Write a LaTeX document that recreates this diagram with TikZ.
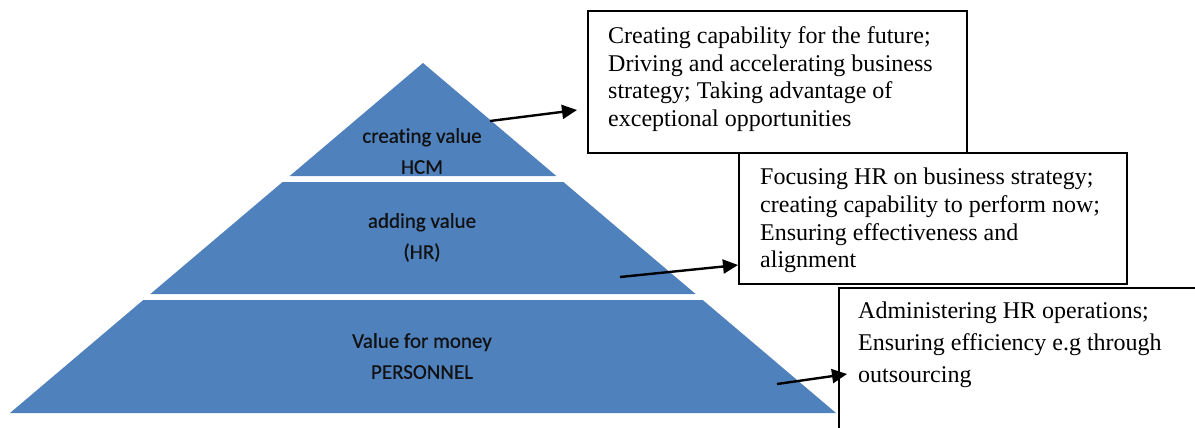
\documentclass[tikz,border=0pt]{standalone}
\usepackage{fontspec}
\setmainfont{Liberation Serif}
\newfontfamily\pyrfont[Ligatures=NoCommon,FakeBold=0.5]{Carlito}
\usetikzlibrary{arrows.meta}
\definecolor{pyrblue}{HTML}{4F81BD}
\definecolor{labeltext}{HTML}{111111}
\begin{document}
\begin{tikzpicture}[x=1pt,y=-1pt,
  level/.style={fill=pyrblue,draw=none},
  lvllabel/.style={font={\pyrfont\fontsize{21}{31}\selectfont},text=labeltext,align=center,inner sep=0pt,anchor=north},
  infobox/.style={draw=black,line width=1.8pt,fill=white,inner sep=0pt,anchor=north west},
  infotext/.style={font={\fontsize{24}{27.6}\selectfont},align=left,inner sep=0pt,anchor=north west},
  pointer/.style={line width=2.4pt,-{Triangle[length=15pt,width=14pt]}}]
\useasboundingbox (0,0) rectangle (1195,428);
\fill[white] (0,0) rectangle (1195,428);
\clip (0,0) rectangle (1195,428);

% pyramid levels
\fill[level] (423,63) -- (556.3,176) -- (289.7,176) -- cycle;
\fill[level] (282.6,182) -- (563.4,182) -- (695.6,294) -- (150.4,294) -- cycle;
\fill[level] (143.3,300) -- (702.7,300) -- (836,413) -- (10,413) -- cycle;

% level labels
\node[lvllabel] (l1) at (422,128) {creating value\\HCM};
\node[lvllabel] (l2) at (422,213) {adding value\\(HR)};
\node[lvllabel] (l3) at (422,333) {Value for money\\PERSONNEL};

% boxes
\node[infobox,minimum width=379pt,minimum height=142pt] (b1) at (587,10) {};
\node[infobox,minimum width=388pt,minimum height=131pt] (b2) at (738,152) {};
\node[infobox,minimum width=420pt,minimum height=200pt] (b3) at (838,287) {};

\node[infotext] (t1) at (608,26.5) {Creating capability for the future;\\Driving and accelerating business\\strategy; Taking advantage of\\exceptional opportunities};
\node[infotext] (t2) at (760,168) {Focusing HR on business strategy;\\creating capability to perform now;\\Ensuring effectiveness and\\alignment};
\node[infotext,font={\fontsize{24}{32}\selectfont}] (t3) at (858,301.6) {Administering HR operations;\\Ensuring efficiency e.g through\\outsourcing};

% pointers
\coordinate (a1s) at (490,121); \coordinate (a1e) at (577,110);
\coordinate (a2s) at (620,277); \coordinate (a2e) at (738,265);
\coordinate (a3s) at (777,384); \coordinate (a3e) at (847,374);
\draw[pointer] (a1s) -- (a1e);
\draw[pointer] (a2s) -- (a2e);
\draw[pointer] (a3s) -- (a3e);
\end{tikzpicture}
\end{document}
